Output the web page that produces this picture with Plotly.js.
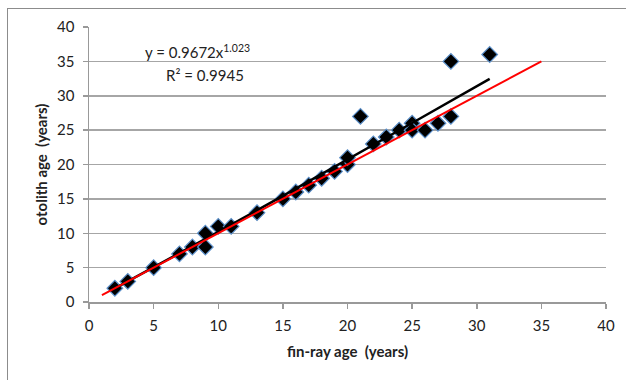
<!DOCTYPE html>
<html><head><meta charset="utf-8">
<script src="https://cdn.plot.ly/plotly-3.0.1.min.js"></script>
<style>
html,body{margin:0;padding:0;background:#fff;}
#wrap{position:relative;width:626px;height:380px;overflow:hidden;}
#frame{position:absolute;left:7px;top:8px;width:640px;height:400px;border-left:1px solid #8c8c8c;border-top:1px solid #8c8c8c;pointer-events:none;z-index:5;}
#chart{position:absolute;left:0;top:0;width:626px;height:380px;}
</style></head>
<body><div id="wrap"><div id="chart"></div><div id="frame"></div></div>
<script>
// observed ages
const finRayAge = [2, 3, 5, 7, 8, 9, 9, 10, 11, 13, 15, 16, 17, 18, 19, 20, 20, 21, 22, 23, 24, 25, 25, 26, 27, 28, 28, 31];
const otolithAge = [2, 3, 5, 7, 8, 10, 8, 11, 11, 13, 15, 16, 17, 18, 19, 20, 21, 27, 23, 24, 25, 26, 25, 25, 26, 27, 35, 36];
// power trendline
const trendX = [2, 5, 10, 15, 20, 25, 31];
const trendY = [1.97, 5.02, 10.2, 15.44, 20.7, 26.04, 32.45];
// 1:1 reference line
const refX = [1, 35];
const refY = [1, 35];
const xTicks = [0, 5, 10, 15, 20, 25, 30, 35, 40];
const yTicks = [0, 5, 10, 15, 20, 25, 30, 35, 40];

const font = "Lato, 'Open Sans', sans-serif";
const traces = [
  {x: finRayAge, y: otolithAge, mode: 'markers', type: 'scatter',
   marker: {symbol: 'diamond', size: 12, color: '#000000', line: {color: '#5b8fc9', width: 1.2}}},
  {x: trendX, y: trendY, mode: 'lines', type: 'scatter', line: {color: '#000000', width: 2.5}},
  {x: refX, y: refY, mode: 'lines', type: 'scatter', line: {color: '#ff0000', width: 2}}
];
const layout = {
  width: 626, height: 380,
  margin: {l: 89, r: 20, t: 27, b: 78},
  showlegend: false,
  paper_bgcolor: '#ffffff', plot_bgcolor: '#ffffff',
  font: {family: font, size: 15, color: '#222'},
  xaxis: {range: [0, 40], tickvals: xTicks, ticktext: xTicks.map(String),
    showgrid: false, zeroline: false, showline: true, linecolor: '#999', linewidth: 1.5,
    ticks: 'outside', ticklen: 5, tickcolor: '#999', tickwidth: 1.5, ticklabelstandoff: 4,
    tickfont: {family: font, size: 15, color: '#222'},
    title: {text: 'fin-ray age  (years)', font: {family: font, size: 15, color: '#222', weight: 'bold'}, standoff: 14}},
  yaxis: {range: [0, 40], tickvals: yTicks, ticktext: yTicks.map(String),
    showgrid: true, gridcolor: '#a6a6a6', gridwidth: 1.5, zeroline: false,
    showline: true, linecolor: '#999', linewidth: 1.5,
    ticks: 'outside', ticklen: 5, tickcolor: '#999', tickwidth: 1.5, ticklabelstandoff: 5,
    tickfont: {family: font, size: 15, color: '#222'},
    title: {text: 'otolith age  (years)', font: {family: font, size: 15, color: '#222', weight: 'bold'}, standoff: 6}},
  annotations: [
    {x: 8.4, y: 36.4, xref: 'x', yref: 'y', xanchor: 'center', yanchor: 'middle', showarrow: false,
     text: 'y = 0.9672x<sup>1.023</sup>', font: {family: font, size: 15, color: '#222'}},
    {x: 9.0, y: 33.0, xref: 'x', yref: 'y', xanchor: 'center', yanchor: 'middle', showarrow: false,
     text: 'R² = 0.9945', font: {family: font, size: 15, color: '#222'}}
  ]
};
Plotly.newPlot('chart', traces, layout, {displayModeBar: false, staticPlot: true});
</script></body></html>
